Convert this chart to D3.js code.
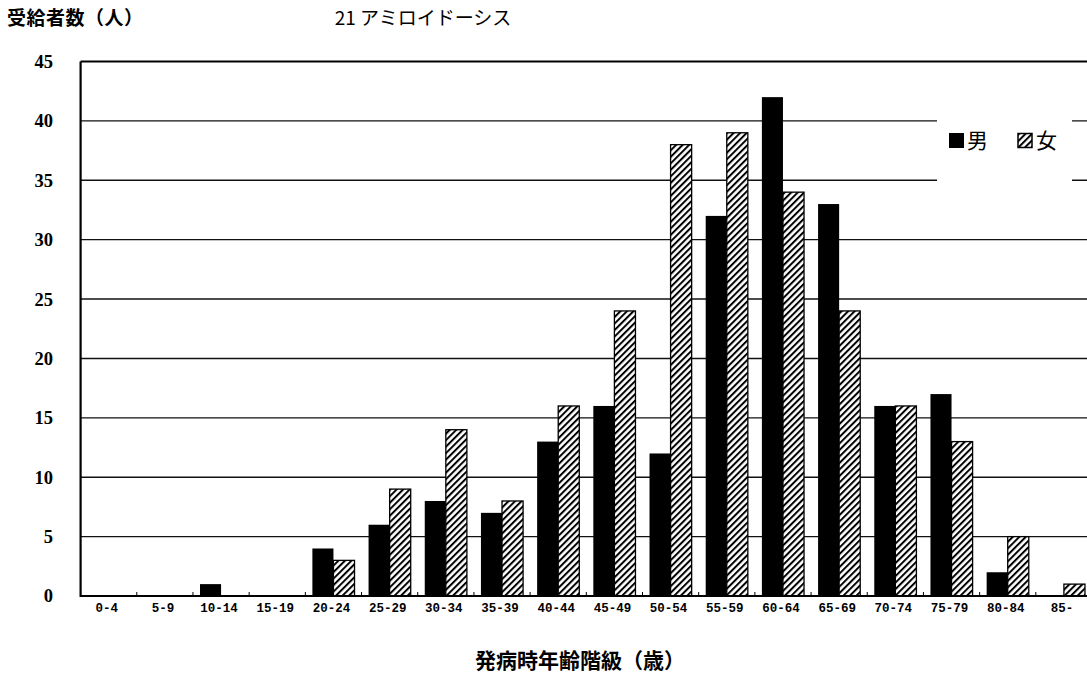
<!DOCTYPE html>
<html><head><meta charset="utf-8">
<script src="https://cdn.jsdelivr.net/npm/d3@7"></script>
<style>body{margin:0;background:#fff}svg{display:block}</style>
</head><body>
<svg id="c" width="1087" height="673"></svg>
<script>
const categories = ["0-4","5-9","10-14","15-19","20-24","25-29","30-34","35-39","40-44","45-49","50-54","55-59","60-64","65-69","70-74","75-79","80-84","85-"];
const male   = [0,0,1,0,4,6,8,7,13,16,12,32,42,33,16,17,2,0];
const female = [0,0,0,0,3,9,14,8,16,24,38,39,34,24,16,13,5,1];
const yTicks = [0,5,10,15,20,25,30,35,40,45];
const seriesNames = ["男","女"];

const svg = d3.select("#c");
const L = 80.6, R = 1092, T = 61.5, B = 596;
const x = d3.scaleBand().domain(categories).range([L, R]).paddingInner(0.25).paddingOuter(0.125);
const x0 = d3.scaleBand().domain(categories).range([L, R]);
const y = d3.scaleLinear().domain([0,45]).range([B, T]);

const defs = svg.append("defs");
const pat = defs.append("pattern").attr("id","hatch").attr("patternUnits","userSpaceOnUse")
  .attr("width",4.6).attr("height",4.6).attr("patternTransform","rotate(45)");
pat.append("rect").attr("width",4.6).attr("height",4.6).attr("fill","#fff");
pat.append("rect").attr("x",0).attr("y",0).attr("width",2).attr("height",4.6).attr("fill","#000");

// gridlines
svg.append("g").selectAll("line").data(yTicks.filter(d=>d>0 && d<45)).join("line")
  .attr("x1",L).attr("x2",1087).attr("y1",d=>y(d)).attr("y2",d=>y(d))
  .attr("stroke","#111").attr("stroke-width",1.4);

// legend blanking box
svg.append("rect").attr("x",937).attr("y",112).attr("width",135).attr("height",74).attr("fill","#fff");

// bars
const bw = x.bandwidth()/2;
const g = svg.append("g");
g.selectAll("rect.m").data(categories).join("rect").attr("class","m")
  .attr("x",(d)=>x(d)).attr("width",bw)
  .attr("y",(d,i)=>y(male[i])).attr("height",(d,i)=>B - y(male[i]))
  .attr("fill","#000");
g.selectAll("rect.f").data(categories).join("rect").attr("class","f")
  .attr("x",(d)=>x(d)+bw).attr("width",bw)
  .attr("y",(d,i)=>y(female[i])).attr("height",(d,i)=>B - y(female[i]))
  .attr("fill","url(#hatch)").attr("stroke","#000").attr("stroke-width",1.3)
  .attr("display",(d,i)=>female[i]>0?null:"none");

// axes frame
svg.append("line").attr("x1",L).attr("x2",L).attr("y1",T).attr("y2",B+1).attr("stroke","#000").attr("stroke-width",2.2);
svg.append("line").attr("x1",L).attr("x2",1087).attr("y1",B).attr("y2",B).attr("stroke","#000").attr("stroke-width",2.2);
svg.append("line").attr("x1",L).attr("x2",1087).attr("y1",T).attr("y2",T).attr("stroke","#000").attr("stroke-width",1.8);

// bottom small ticks at group boundaries
svg.append("g").selectAll("line").data(categories.slice(1)).join("line")
  .attr("x1",d=>x0(d)).attr("x2",d=>x0(d)).attr("y1",B).attr("y2",B-4)
  .attr("stroke","#000").attr("stroke-width",1);

// y tick labels
svg.append("g").selectAll("text").data(yTicks).join("text")
  .attr("x",53).attr("y",d=>y(d)).attr("dy","0.35em").attr("text-anchor","end")
  .attr("font-family","Liberation Serif").attr("font-weight","bold").attr("font-size",18.5)
  .text(d=>d);

// x tick labels
svg.append("g").selectAll("text").data(categories).join("text")
  .attr("x",d=>x0(d)+x0.bandwidth()/2 - 2).attr("y",612).attr("text-anchor","middle")
  .attr("font-family","Liberation Mono").attr("font-weight","bold").attr("font-size",12.5)
  .text(d=>d);

// titles
const cjk = "'Noto Sans CJK JP'";
svg.append("text").attr("x",7).attr("y",25).attr("font-family",cjk).attr("font-weight","bold")
  .attr("font-size",19).attr("letter-spacing",0.5).text("受給者数（人）");
svg.append("text").attr("x",423).attr("y",25).attr("text-anchor","middle").attr("font-family",cjk)
  .attr("font-size",19).text("21 アミロイドーシス");
svg.append("text").attr("x",580).attr("y",668).attr("text-anchor","middle").attr("font-family",cjk)
  .attr("font-weight","bold").attr("font-size",21).text("発病時年齢階級（歳）");

// legend
const lg = svg.append("g");
lg.append("rect").attr("x",949).attr("y",133).attr("width",15).attr("height",15).attr("fill","#000");
lg.append("text").attr("x",967).attr("y",148).attr("font-family",cjk).attr("font-size",21).text(seriesNames[0]);
lg.append("rect").attr("x",1018).attr("y",133.5).attr("width",14).attr("height",14).attr("fill","url(#hatch)").attr("stroke","#000").attr("stroke-width",1.5);
lg.append("text").attr("x",1036).attr("y",148).attr("font-family",cjk).attr("font-size",21).text(seriesNames[1]);
</script>
</body></html>
